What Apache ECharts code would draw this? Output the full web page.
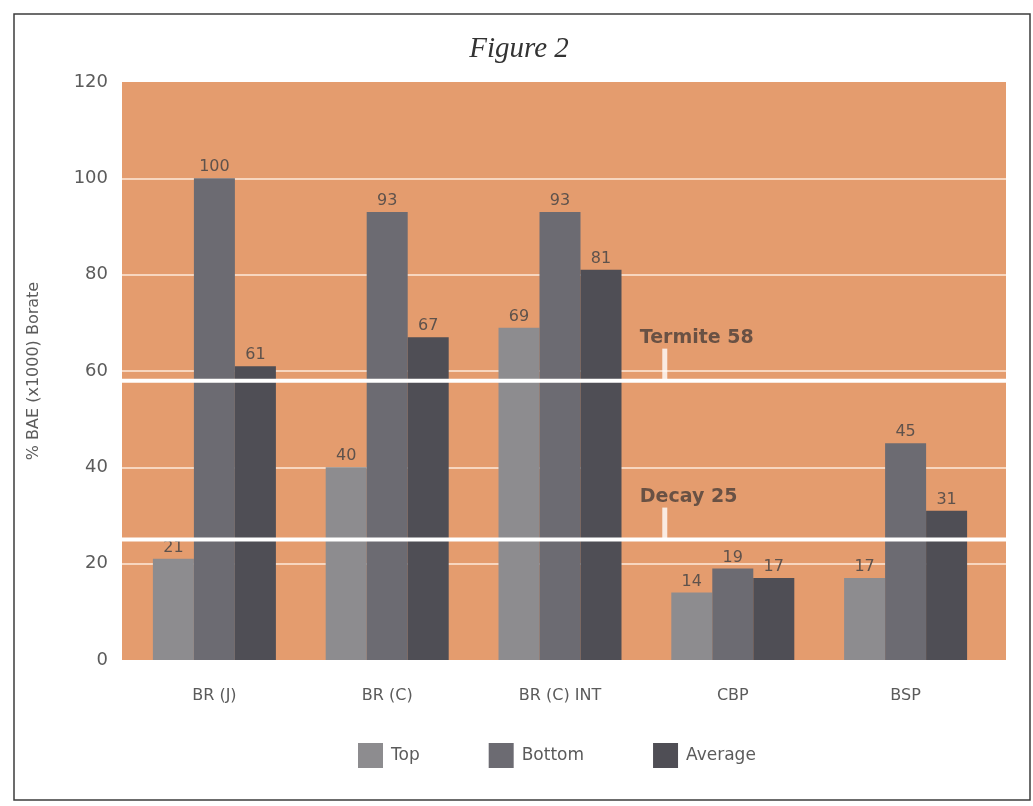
<!DOCTYPE html>
<html>
<head>
<meta charset="utf-8">
<title>Figure 2</title>
<script src="https://cdn.jsdelivr.net/npm/echarts@6/dist/echarts.min.js"></script>
<style>
  html, body { margin: 0; padding: 0; background: #ffffff; }
  #chart { width: 1033px; height: 806px; }
</style>
</head>
<body>
<div id="chart"></div>
<script>
// Borate retention by sample location
const categories = ['BR (J)', 'BR (C)', 'BR (C) INT', 'CBP', 'BSP'];
const topValues = [21, 40, 69, 14, 17];
const bottomValues = [100, 93, 93, 19, 45];
const averageValues = [61, 67, 81, 17, 31];
const yTicks = [0, 20, 40, 60, 80, 100, 120];

// Threshold levels
const termiteLevel = 58;
const decayLevel = 25;

const FONT = '"DejaVu Sans", sans-serif';
const ORANGE = '#e49c6e';
const TEXT = '#5b5b5b';
const VALUE_TEXT = '#5e524c';
const COLORS = { top: '#8d8c8f', bottom: '#6c6b72', average: '#4f4e55' };

const chart = echarts.init(document.getElementById('chart'), null, { renderer: 'canvas' });

const valueLabel = {
  show: true,
  position: 'top',
  distance: 3,
  color: VALUE_TEXT,
  fontFamily: FONT,
  fontSize: 16
};

function thresholdLine(name, level) {
  return {
    name: name,
    type: 'line',
    xAxisIndex: 0,
    yAxisIndex: 0,
    data: [[0, level], [1, level]],
    symbol: 'none',
    silent: true,
    z: 5,
    lineStyle: { color: '#ffffff', width: 4 }
  };
}

function thresholdTag(text, level) {
  return {
    type: 'scatter',
    xAxisIndex: 0,
    yAxisIndex: 0,
    data: [[0.614, level]],
    symbol: 'rect',
    symbolSize: [5, 32],
    symbolOffset: [0, -16],
    silent: true,
    z: 5,
    itemStyle: { color: '#ffffff' },
    label: {
      show: true,
      formatter: text,
      position: 'top',
      align: 'left',
      offset: [-25, 0],
      distance: 1,
      color: '#4a3f3a',
      fontFamily: FONT,
      fontWeight: 'bold',
      fontSize: 19
    }
  };
}

const option = {
  animation: false,
  backgroundColor: '#ffffff',
  title: {
    text: 'Figure 2',
    left: 514,
    top: 30,
    textAlign: 'center',
    textStyle: {
      fontFamily: '"Liberation Serif", serif',
      fontStyle: 'italic',
      fontWeight: 'normal',
      fontSize: 29,
      color: '#333333'
    }
  },
  legend: {
    data: ['Top', 'Bottom', 'Average'],
    left: 353,
    top: 738,
    itemWidth: 25,
    itemHeight: 25,
    itemGap: 69,
    icon: 'rect',
    textStyle: { color: TEXT, fontFamily: FONT, fontSize: 17, padding: [0, 0, 0, 3] }
  },
  grid: [
    { left: 122, right: 27, top: 82, bottom: 146, show: true, backgroundColor: ORANGE, borderWidth: 0 },
    { left: 128, right: 41, top: 82, bottom: 146 }
  ],
  xAxis: [
    { type: 'value', gridIndex: 0, min: 0, max: 1, show: false },
    {
      type: 'category',
      gridIndex: 1,
      data: categories,
      axisLine: { show: false },
      axisTick: { show: false },
      axisLabel: { color: TEXT, fontFamily: FONT, fontSize: 16, margin: 28 }
    }
  ],
  yAxis: [
    {
      type: 'value',
      gridIndex: 0,
      min: yTicks[0],
      max: yTicks[yTicks.length - 1],
      interval: 20,
      name: '% BAE (x1000) Borate',
      nameLocation: 'middle',
      nameGap: 80,
      nameTextStyle: { color: TEXT, fontFamily: FONT, fontSize: 16 },
      axisLine: { show: false },
      axisTick: { show: false },
      axisLabel: { color: TEXT, fontFamily: FONT, fontSize: 18, margin: 14 },
      splitLine: {
        show: true,
        showMinLine: false,
        showMaxLine: false,
        lineStyle: { color: '#f7d6bf', width: 2 }
      }
    },
    { type: 'value', gridIndex: 1, min: 0, max: 120, interval: 20, show: false }
  ],
  series: [
    {
      name: 'Top', type: 'bar', xAxisIndex: 1, yAxisIndex: 1,
      data: topValues, barWidth: 41, barGap: '0%',
      itemStyle: { color: COLORS.top }, label: valueLabel, z: 3
    },
    {
      name: 'Bottom', type: 'bar', xAxisIndex: 1, yAxisIndex: 1,
      data: bottomValues, barWidth: 41, barGap: '0%',
      itemStyle: { color: COLORS.bottom }, label: valueLabel, z: 3
    },
    {
      name: 'Average', type: 'bar', xAxisIndex: 1, yAxisIndex: 1,
      data: averageValues, barWidth: 41, barGap: '0%',
      itemStyle: { color: COLORS.average }, label: valueLabel, z: 3
    },
    thresholdLine('Termite', termiteLevel),
    thresholdLine('Decay', decayLevel),
    thresholdTag('Termite ' + termiteLevel, termiteLevel),
    thresholdTag('Decay ' + decayLevel, decayLevel)
  ],
  graphic: [
    {
      type: 'rect',
      shape: { x: 14, y: 14, width: 1016, height: 786 },
      style: { fill: null, stroke: '#3c3c3c', lineWidth: 1.5 },
      silent: true,
      z: -1
    }
  ]
};

chart.setOption(option);
</script>
</body>
</html>
